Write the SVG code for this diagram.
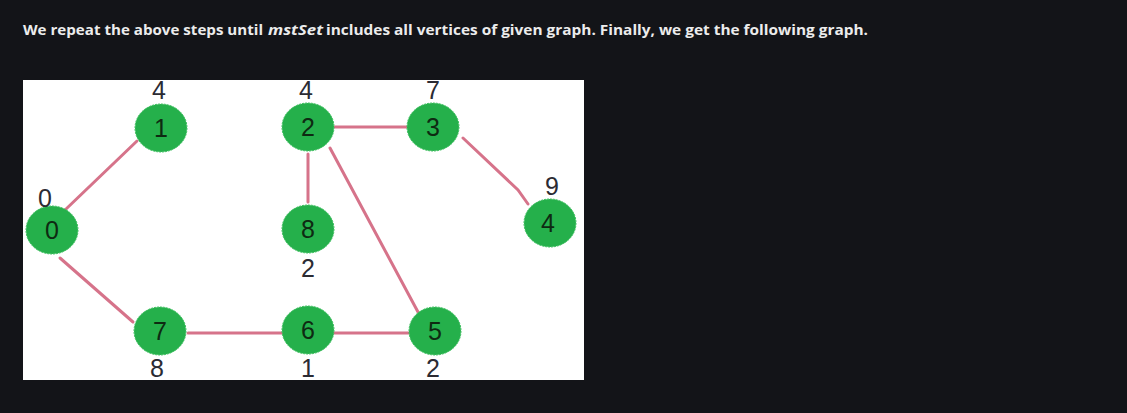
<svg xmlns="http://www.w3.org/2000/svg" width="1127" height="413" viewBox="0 0 1127 413">
<style>
.hdr{font-family:"Open Sans","Liberation Sans",sans-serif;font-size:15px;font-weight:700;fill:#ececec}
.edge{stroke:#d6738a;stroke-width:3;fill:none;stroke-linecap:round}
.node ellipse{fill:#25b04b;stroke:#3ec060;stroke-width:1;stroke-dasharray:2 1}
.num{font-family:"Liberation Sans","DejaVu Sans",sans-serif;font-size:25px;fill:#0e2a12;text-anchor:middle}
.lbl{font-family:"Liberation Sans","DejaVu Sans",sans-serif;font-size:25px;fill:#2b2b33;text-anchor:middle}
</style>
<rect x="0" y="0" width="1127" height="413" fill="#131418"/>
<text class="hdr" x="23" y="35" textLength="240" lengthAdjust="spacingAndGlyphs">We repeat the above steps until</text>
<text class="hdr" x="268" y="35" font-style="italic" textLength="55" lengthAdjust="spacingAndGlyphs">mstSet</text>
<text class="hdr" x="326" y="35" textLength="542" lengthAdjust="spacingAndGlyphs">includes all vertices of given graph. Finally, we get the following graph.</text>
<svg x="23" y="80" width="561" height="300" viewBox="23 80 561 300" overflow="hidden">
<rect x="23" y="80" width="561" height="300" fill="#ffffff"/>
<g id="edges">
<line class="edge" x1="65" y1="210" x2="137" y2="141"/>
<line class="edge" x1="335" y1="127" x2="408" y2="127"/>
<polyline class="edge" points="463,138 518,190 528,204"/>
<line class="edge" x1="308" y1="154" x2="308" y2="202"/>
<line class="edge" x1="330" y1="148" x2="418" y2="312"/>
<line class="edge" x1="60" y1="258" x2="133" y2="322"/>
<line class="edge" x1="188" y1="333" x2="282" y2="333"/>
<line class="edge" x1="334" y1="333" x2="410" y2="333"/>
</g>
<g id="node0" class="node"><ellipse cx="52" cy="230" rx="26" ry="24"/><text class="num" x="52" y="239">0</text><text class="lbl" x="45" y="207">0</text></g>
<g id="node1" class="node"><ellipse cx="161" cy="128" rx="26" ry="24"/><text class="num" x="161" y="137">1</text><text class="lbl" x="159" y="99">4</text></g>
<g id="node2" class="node"><ellipse cx="308" cy="127" rx="26" ry="24"/><text class="num" x="308" y="136">2</text><text class="lbl" x="306" y="99">4</text></g>
<g id="node3" class="node"><ellipse cx="433" cy="127" rx="26" ry="24"/><text class="num" x="433" y="136">3</text><text class="lbl" x="433" y="99">7</text></g>
<g id="node4" class="node"><ellipse cx="550" cy="223" rx="26" ry="24"/><text class="num" x="548" y="232">4</text><text class="lbl" x="552" y="195">9</text></g>
<g id="node8" class="node"><ellipse cx="308" cy="229" rx="26" ry="24"/><text class="num" x="308" y="238">8</text><text class="lbl" x="308" y="277">2</text></g>
<g id="node7" class="node"><ellipse cx="160" cy="331" rx="26" ry="24"/><text class="num" x="160" y="340">7</text><text class="lbl" x="157" y="377">8</text></g>
<g id="node6" class="node"><ellipse cx="308" cy="330" rx="26" ry="24"/><text class="num" x="308" y="339">6</text><text class="lbl" x="308" y="377">1</text></g>
<g id="node5" class="node"><ellipse cx="435" cy="331" rx="26" ry="24"/><text class="num" x="435" y="340">5</text><text class="lbl" x="433" y="377">2</text></g>
</svg>
</svg>
